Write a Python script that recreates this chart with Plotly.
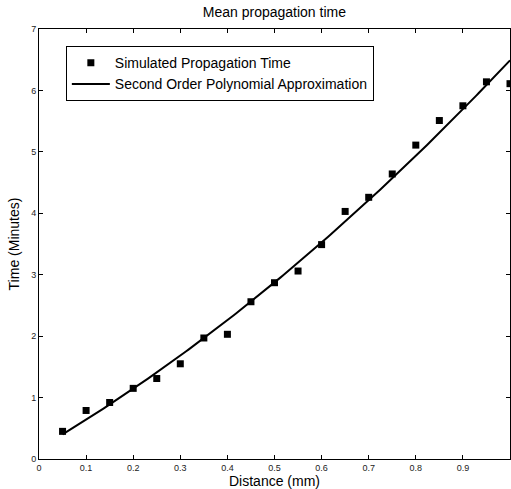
import numpy as np
import plotly.graph_objects as go

distance = [0.05, 0.10, 0.15, 0.20, 0.25, 0.30, 0.35, 0.40, 0.45, 0.50,
            0.55, 0.60, 0.65, 0.70, 0.75, 0.80, 0.85, 0.90, 0.95, 1.00]
sim_time = [0.45, 0.79, 0.92, 1.15, 1.31, 1.55, 1.97, 2.03, 2.56, 2.87,
            3.06, 3.49, 4.03, 4.26, 4.64, 5.11, 5.51, 5.75, 6.14, 6.11]

coef = np.polyfit(distance, sim_time, 2)
xfit = np.linspace(min(distance), max(distance), 200)
yfit = np.polyval(coef, xfit)

fig = go.Figure()
fig.add_trace(go.Scatter(x=distance, y=sim_time, mode="markers",
                         name="Simulated Propagation Time", cliponaxis=False,
                         marker=dict(symbol="square", size=7, color="black")))
fig.add_trace(go.Scatter(x=xfit, y=yfit, mode="lines",
                         name="Second Order Polynomial Approximation",
                         line=dict(color="black", width=2)))

axis_common = dict(showgrid=False, zeroline=False, showline=True, linecolor="black",
                   linewidth=1, mirror="ticks", ticks="inside", ticklen=4,
                   tickcolor="black", automargin=False,
                   tickfont=dict(size=9, color="#222", family="Liberation Sans"))

fig.update_layout(
    width=511, height=489,
    margin=dict(l=39, r=1, t=29, b=30),
    paper_bgcolor="white", plot_bgcolor="white",
    font=dict(family="Liberation Sans", color="black"),
    title=dict(text="Mean propagation time", x=0.537, xanchor="center", y=0.975,
               yanchor="middle", font=dict(size=14)),
    xaxis=dict(range=[0, 1], tickvals=[0, 0.1, 0.2, 0.3, 0.4, 0.5, 0.6, 0.7, 0.8, 0.9, 1],
               ticktext=["0", "0.1", "0.2", "0.3", "0.4", "0.5", "0.6", "0.7", "0.8", "0.9", "1"],
               title=dict(text="Distance (mm)", font=dict(size=14), standoff=1), **axis_common),
    yaxis=dict(range=[0, 7], tickvals=[0, 1, 2, 3, 4, 5, 6, 7],
               title=dict(text="Time (Minutes)", font=dict(size=14), standoff=8), **axis_common),
    showlegend=True,
    legend=dict(x=0.057, y=0.96, xanchor="left", yanchor="top",
                bordercolor="black", borderwidth=1, bgcolor="white",
                font=dict(size=14), tracegroupgap=0, itemwidth=38),
)

fig.write_html("out.html", config={"displayModeBar": False},
               post_script="document.body.style.margin='0';document.body.style.overflow='hidden';")
